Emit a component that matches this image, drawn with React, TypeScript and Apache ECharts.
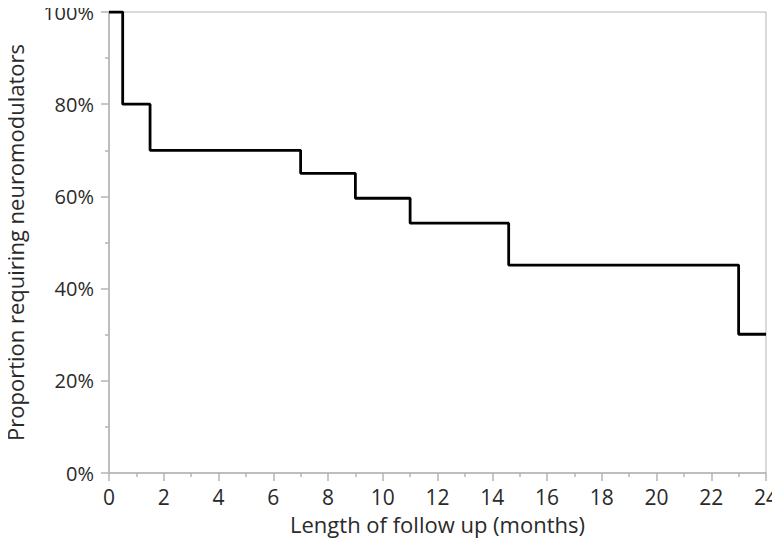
import React, { useEffect, useRef } from "react";
import * as echarts from "echarts";

const months = [0, 0.5, 1.5, 7, 9, 11, 14.6, 23, 24];
const proportion = [100, 80, 70, 65, 59.6, 54.2, 45.1, 30.1, 30.1];
const xTitle = "Length of follow up (months)";
const yTitle = "Proportion requiring neuromodulators";

const FONT = "'Open Sans', 'Noto Sans', sans-serif";
const AXIS = "#b4b4b4";
const TEXT = "#2a2a2a";

export default function App() {
  const ref = useRef<HTMLDivElement>(null);
  useEffect(() => {
    if (!ref.current) return;
    const chart = echarts.init(ref.current, undefined, { renderer: "svg" });
    chart.setOption({
      animation: false,
      backgroundColor: "#fff",
      grid: {
        left: 109,
        right: 14,
        top: 12,
        bottom: 74,
        show: true,
        borderColor: AXIS,
        borderWidth: 1,
        containLabel: false,
        outerBoundsMode: "none",
      },
      xAxis: {
        type: "value",
        min: 0,
        max: 24,
        interval: 2,
        name: xTitle,
        nameLocation: "middle",
        nameGap: 40,
        nameTextStyle: { fontFamily: FONT, fontSize: 22, color: TEXT },
        axisLine: { show: true, lineStyle: { color: AXIS, width: 1.5 } },
        axisTick: { show: true, length: 8, lineStyle: { color: AXIS, width: 1.5 } },
        minorTick: { show: true, splitNumber: 2, length: 4, lineStyle: { color: AXIS, width: 1.5 } },
        splitLine: { show: false },
        axisLabel: { fontFamily: FONT, fontSize: 21, color: TEXT, margin: 13 },
      },
      yAxis: {
        type: "value",
        min: 0,
        max: 100,
        interval: 20,
        name: yTitle,
        nameLocation: "middle",
        nameGap: 83,
        nameRotate: 90,
        nameTextStyle: { fontFamily: FONT, fontSize: 22, color: TEXT, lineHeight: 22 },
        axisLine: { show: true, lineStyle: { color: AXIS, width: 1.5 } },
        axisTick: { show: true, length: 8, lineStyle: { color: AXIS, width: 1.5 } },
        minorTick: { show: true, splitNumber: 2, length: 4, lineStyle: { color: AXIS, width: 1.5 } },
        splitLine: { show: false },
        axisLabel: {
          fontFamily: FONT,
          fontSize: 20,
          lineHeight: 20,
          padding: [5, 0, 0, 0],
          color: TEXT,
          margin: 15,
          formatter: "{value}%",
        },
      },
      series: [
        {
          type: "line",
          step: "end",
          data: months.map((m, i) => [m, proportion[i]]),
          showSymbol: false,
          lineStyle: { color: "#000", width: 2.8 },
        },
      ],
    });
    return () => chart.dispose();
  }, []);
  return <div ref={ref} style={{ width: 780, height: 547, margin: -8 }} />;
}
